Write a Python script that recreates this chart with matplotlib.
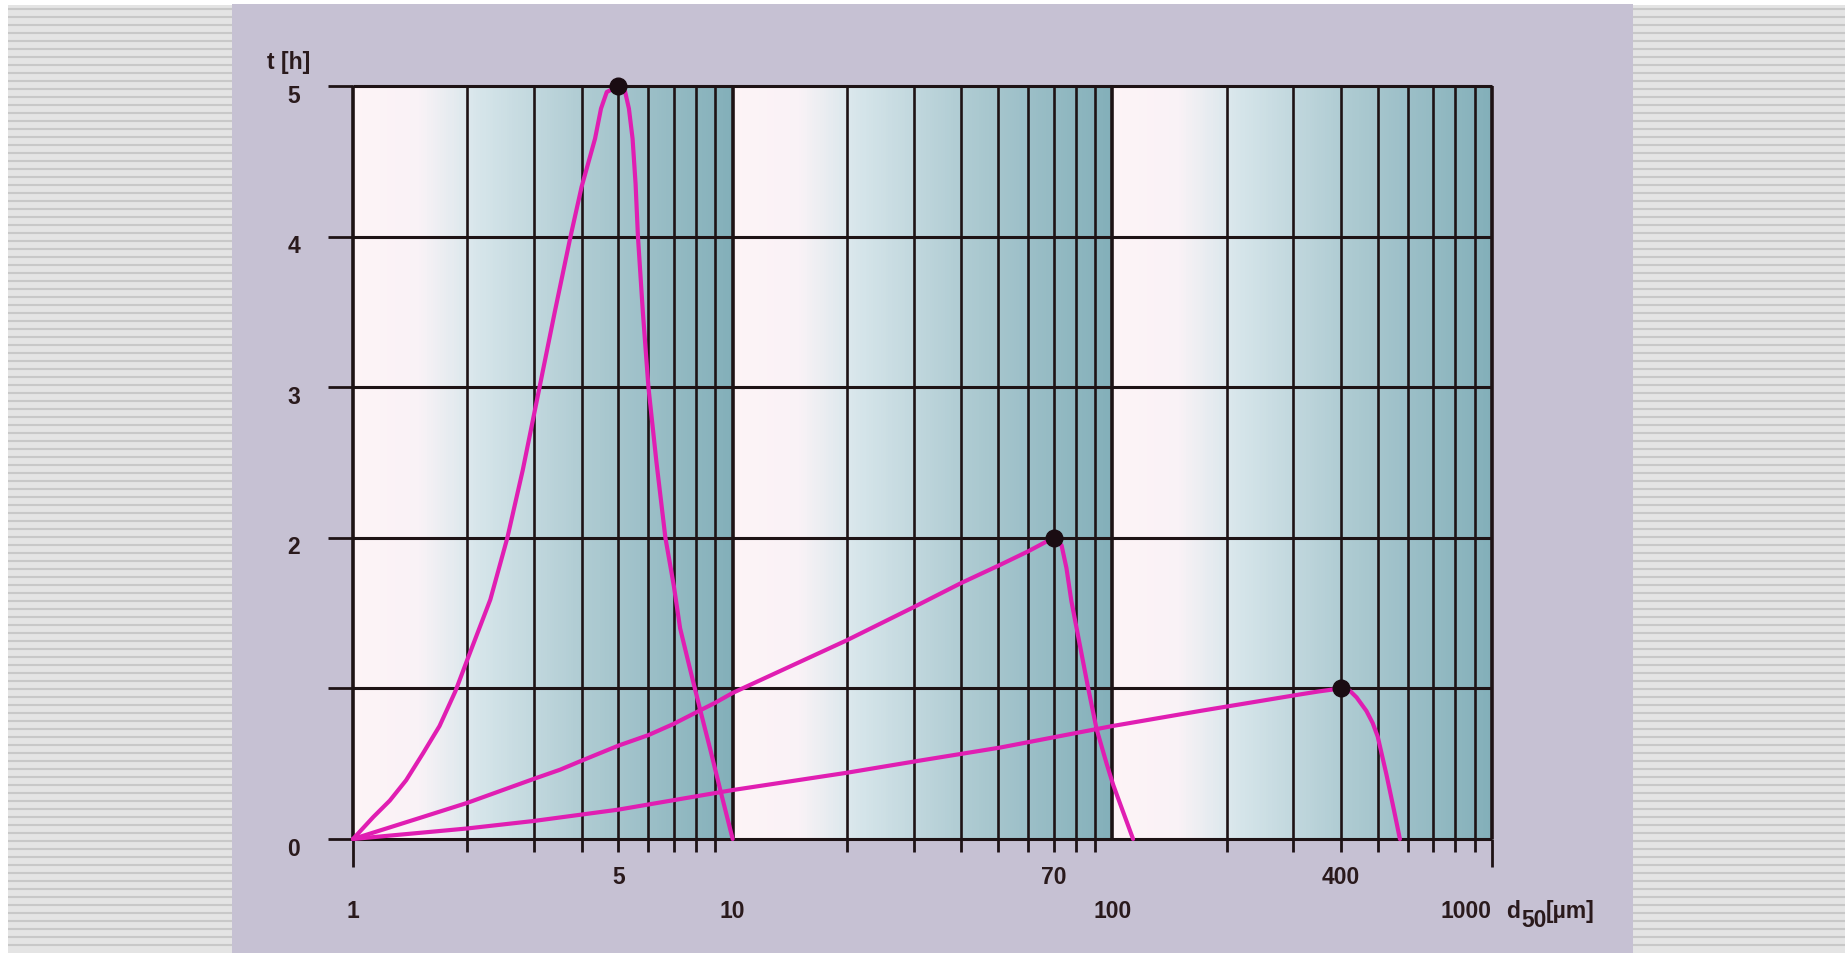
import numpy as np
import matplotlib.pyplot as plt
from matplotlib.colors import LinearSegmentedColormap

# curves: particle size d50 [µm] vs. time t [h]
d_fine = [1.0, 1.13, 1.25, 1.38, 1.53, 1.69, 1.86, 2.0, 2.3, 2.55, 2.8, 3.1, 3.4, 3.74,
          4.0, 4.34, 4.5, 4.66, 5.0, 5.2, 5.33, 5.45, 5.55, 5.63, 5.8, 6.0, 6.3,
          6.65, 7.0, 7.27, 7.6, 7.95, 8.4, 8.72, 9.31, 10.0]
t_fine = [0.0, 0.145, 0.255, 0.39, 0.57, 0.75, 0.98, 1.19, 1.59, 2.0, 2.45, 3.0, 3.5, 4.0,
          4.33, 4.65, 4.85, 4.96, 5.0, 4.97, 4.85, 4.65, 4.35, 4.0, 3.5, 3.0, 2.5,
          2.0, 1.68, 1.4, 1.2, 1.0, 0.76, 0.6, 0.31, 0.0]

d_mid = [1.0, 1.5, 2.0, 3.0, 3.51, 4.0, 5.0, 6.0, 7.0, 8.0, 9.0, 10.0, 20.0, 30.0,
         40.0, 50.6, 60.0, 70.0, 73.5, 75.7, 78.0, 86.4, 90.9, 96.6, 100.5, 113.4]
t_mid = [0.0, 0.14, 0.24, 0.4, 0.46, 0.52, 0.62, 0.69, 0.765, 0.84, 0.905, 0.97, 1.32, 1.54,
         1.7, 1.82, 1.91, 2.0, 1.95, 1.8, 1.58, 1.0, 0.73, 0.5, 0.36, 0.0]

d_coarse = [1.0, 2.0, 3.0, 5.0, 10.0, 20.0, 31.0, 50.6, 100.0, 170.0, 312.0, 350.0, 400.0,
            420.0, 440.0, 467.0, 485.0, 500.0, 527.0, 552.0, 572.0]
t_coarse = [0.0, 0.07, 0.12, 0.195, 0.325, 0.44, 0.52, 0.607, 0.75, 0.85, 0.96, 0.98, 1.0,
            0.99, 0.94, 0.85, 0.77, 0.68, 0.43, 0.19, 0.0]

peak_d = [5, 70, 400]
peak_t = [5, 2, 1]

y_ticks = [0, 1, 2, 3, 4, 5]
y_labels = ['0', '', '2', '3', '4', '5']
x_row_low = [1, 10, 100]          # lower label row
x_row_high = [5, 70, 400]         # upper label row
x_minor = [m * 10 ** k for k in range(3) for m in range(2, 10)]

magenta = '#e01eb2'
ink = '#1e1315'
txt = '#2a1a1c'

plt.rcParams['font.family'] = ['Liberation Sans', 'DejaVu Sans']
fig = plt.figure(figsize=(18.45, 9.54), dpi=100)

# backdrop: striped margins and the lavender page (pixel coordinates)
bg = fig.add_axes([0, 0, 1, 1], zorder=-10)
bg.set_xlim(0, 1845)
bg.set_ylim(954, 0)
bg.axis('off')
for x0, x1 in [(8, 232), (1633, 1845)]:
    bg.fill_between([x0, x1], 6, 954, color='#e4e4e4', lw=0)
    bg.hlines(np.arange(10, 954, 8), x0, x1, color='#c8c8c8', lw=1.5)
bg.fill_between([232, 1633], 5, 954, color='#c6c1d3', lw=0)

ax = fig.add_axes([353 / 1845, 114 / 954, 1139 / 1845, 753 / 954])
ax.set_xscale('log')
ax.set_xlim(1, 1000)
ax.set_ylim(0, 5)
ax.patch.set_alpha(0)
for s in ax.spines.values():
    s.set_visible(False)

# shaded decades: pale at the start, teal towards the end
shade = LinearSegmentedColormap.from_list('shade', [(0, '#fdf3f6'), (0.17, '#f9f2f6'),
                                                    (0.33, '#d6e5ea'), (0.6, '#b0ccd3'),
                                                    (1, '#83afb9')])
for k in range(3):
    edges = 10 ** np.linspace(k, k + 1, 201)
    frac = np.linspace(0, 1, 200)[None, :]
    ax.pcolormesh(edges, [0, 5], frac, cmap=shade, vmin=0, vmax=1, shading='flat', zorder=0)

# grid
ax.vlines(x_minor, 0, 5, color=ink, lw=1.9, zorder=1)
ax.vlines([10, 100], 0, 5, color=ink, lw=2.6, zorder=1)
ax.vlines([1, 1000], 0, 5, color=ink, lw=2.6, zorder=1, clip_on=False)
ax.hlines(y_ticks, 1, 1000, color=ink, lw=2.2, zorder=1, clip_on=False)

# ticks
ax.set_yticks(y_ticks)
ax.set_yticklabels([])
ax.tick_params(axis='y', direction='out', length=18, width=2.0, color=ink)
ax.set_xticks([1, 1000])
ax.set_xticks(x_minor, minor=True)
ax.set_xticklabels([])
ax.set_xticklabels([], minor=True)
ax.tick_params(axis='x', which='major', direction='out', length=20, width=2.0, color=ink)
ax.tick_params(axis='x', which='minor', direction='out', length=9.5, width=2.0, color=ink)

# curves and peak points
for d, t in [(d_fine, t_fine), (d_mid, t_mid), (d_coarse, t_coarse)]:
    ax.plot(d, t, color=magenta, lw=3.0, zorder=3, clip_on=False,
            solid_joinstyle='round', solid_capstyle='round')
ax.plot(peak_d, peak_t, 'o', ms=12, color='#1a0c12', zorder=4, clip_on=False)

# labels
fs = 16.5
ytr = ax.get_yaxis_transform()
for v, lab in zip(y_ticks, y_labels):
    ax.text(-0.052, v - 0.06, lab, transform=ytr, ha='center', va='center',
            fontsize=fs, fontweight='bold', color=txt)
xtr = ax.get_xaxis_transform()
for v in x_row_high:
    ax.text(v, -0.05, str(v), transform=xtr, ha='center', va='center',
            fontsize=fs, fontweight='bold', color=txt)
for v in x_row_low:
    ax.text(v, -0.095, str(v), transform=xtr, ha='center', va='center',
            fontsize=fs, fontweight='bold', color=txt)
ax.text(1000, -0.095, '1000', transform=xtr, ha='right', va='center',
        fontsize=fs, fontweight='bold', color=txt)

ax.annotate('t [h]', xy=(0, 1), xycoords='axes fraction', xytext=(-64, 24),
            textcoords='offset pixels', ha='center', va='center',
            fontsize=fs, fontweight='bold', color=txt)
for s, dx, dy in [('d', 14, -78), ('50', 29, -87), ('[µm]', 54, -78)]:
    ax.annotate(s, xy=(1, 0), xycoords='axes fraction', xytext=(dx, dy),
                textcoords='offset pixels', ha='left', va='baseline',
                fontsize=fs, fontweight='bold', color=txt)

fig.savefig('out.png', dpi=100)
